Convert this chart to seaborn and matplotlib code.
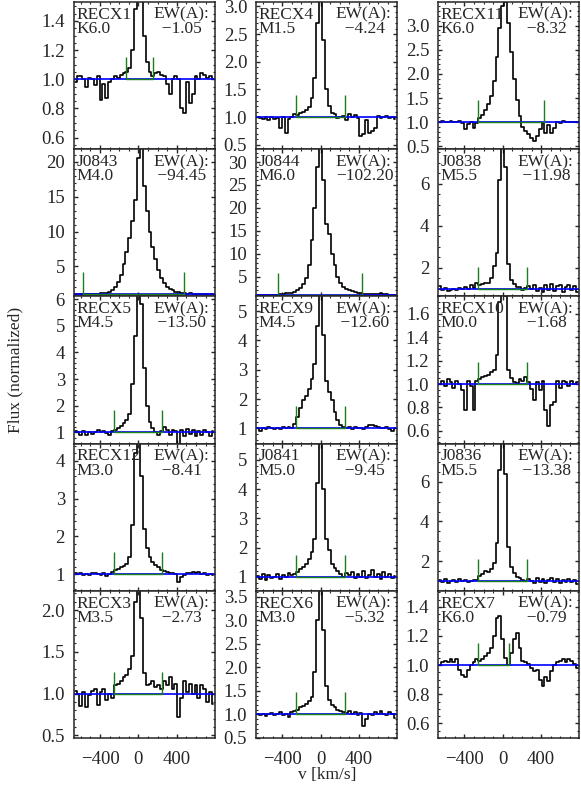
import numpy as np
import matplotlib
matplotlib.use('Agg')
import matplotlib.pyplot as plt
import seaborn as sns
from matplotlib.ticker import MultipleLocator, AutoMinorLocator

# velocity grid of the spectra (bin centres, km/s)
VELOCITY = np.arange(-660, 781, 30)

STARS = ['RECX1', 'RECX4', 'RECX11',
         'J0843', 'J0844', 'J0838',
         'RECX5', 'RECX9', 'RECX10',
         'RECX12', 'J0841', 'J0836',
         'RECX3', 'RECX6', 'RECX7']
SPECTRAL_TYPES = ['K6.0', 'M1.5', 'K6.0',
                  'M4.0', 'M6.0', 'M5.5',
                  'M4.5', 'M4.5', 'M0.0',
                  'M3.0', 'M5.0', 'M5.5',
                  'M3.5', 'M3.0', 'K6.0']
EQUIV_WIDTHS = [-1.05, -4.24, -8.32,
                -94.45, -102.20, -11.98,
                -13.50, -12.60, -1.68,
                -8.41, -9.45, -13.38,
                -2.73, -5.32, -0.79]

# integration limits (km/s)
LIMIT_LOW = [-125, -255, -255,
             -575, -440, -255,
             -255, -255, -255,
             -255, -255, -255,
             -255, -255, -255]
LIMIT_HIGH = [150, 250, 435,
              480, 435, 250,
              250, 250, 250,
              250, 250, 250,
              250, 250, 70]

Y_RANGES = [(0.52, 1.53), (0.42, 3.08), (0.44, 3.49),
            (0.7, 21.8), (0.7, 32.8), (0.64, 7.65),
            (0.58, 6.1), (0.48, 5.5), (0.49, 1.75),
            (0.56, 4.46), (0.52, 5.56), (0.53, 7.9),
            (0.47, 2.23), (0.5, 3.63), (0.5, 1.51)]
Y_STEPS = [0.2, 0.5, 0.5,
           5, 5, 2,
           1, 1, 0.2,
           1, 1, 2,
           0.5, 0.5, 0.2]

FLUX_RECX1 = [0.98, 1.02, 1.02, 1.00, 0.95, 1.01, 1.00,
              0.96, 1.02, 0.86, 0.97, 0.87, 0.98, 1.00,
              1.02, 1.01, 1.03, 1.04, 1.05, 1.08, 1.20,
              1.48, 1.62, 1.60, 1.30, 1.12, 1.05, 1.02,
              1.04, 1.05, 1.03, 1.02, 0.97, 0.90, 1.00,
              1.02, 1.00, 0.80, 0.77, 0.98, 0.84, 0.90,
              1.02, 1.00, 1.04, 1.03, 1.01, 1.02, 1.00]
FLUX_RECX4 = [1.00, 0.98, 0.97, 1.00, 0.95, 1.00, 0.97,
              0.98, 0.80, 1.00, 0.72, 0.96, 1.00, 1.05,
              1.04, 1.08, 1.10, 1.12, 1.18, 1.35, 1.70,
              2.70, 3.40, 2.40, 1.50, 1.20, 1.08, 1.05,
              0.98, 1.00, 1.02, 0.95, 1.05, 1.00, 1.03,
              0.98, 0.65, 0.70, 0.95, 0.72, 0.75, 0.80,
              1.02, 0.98, 1.00, 1.02, 0.98, 1.00, 0.97]
FLUX_RECX11 = [1.00, 1.02, 1.01, 1.00, 1.02, 1.01, 1.00,
               1.02, 0.98, 0.85, 0.97, 1.00, 0.88, 0.98,
               1.08, 1.15, 1.25, 1.38, 1.55, 1.85, 2.35,
               2.95, 3.40, 3.50, 3.05, 2.45, 1.90, 1.45,
               1.12, 0.90, 0.82, 0.75, 0.68, 0.62, 0.72,
               0.85, 0.98, 0.78, 0.95, 0.78, 0.88, 1.00,
               0.98, 1.02, 1.00, 1.01, 1.00, 1.00, 1.00]
FLUX_J0843 = [1.00, 1.00, 1.02, 1.00, 1.03, 1.05, 1.05,
              1.08, 1.10, 1.12, 1.18, 1.25, 1.40, 1.65,
              2.10, 2.70, 3.80, 5.30, 7.00, 9.00, 11.5,
              14.5, 20.5, 23.0, 16.5, 13.0, 10.0, 7.8,
              6.0, 4.5, 3.4, 2.6, 2.1, 1.8, 1.55,
              1.40, 1.28, 1.20, 1.12, 1.10, 1.12, 1.08,
              1.05, 1.05, 1.03, 1.02, 1.02, 1.00, 1.00]
FLUX_J0844 = [1.00, 1.05, 1.00, 1.10, 0.95, 1.05, 1.00,
              1.10, 1.20, 1.25, 1.35, 1.40, 1.55, 1.75,
              2.10, 2.60, 3.40, 4.80, 7.50, 13.0, 20.0,
              29.0, 33.5, 26.0, 16.5, 14.3, 10.0, 7.5,
              5.0, 3.6, 2.8, 2.3, 2.0, 1.8, 1.6,
              1.5, 1.4, 1.25, 1.15, 1.20, 1.30, 1.25,
              1.20, 1.40, 1.30, 1.20, 1.10, 1.05, 1.00]
FLUX_J0838 = [1.15, 0.95, 1.05, 0.90, 0.95, 1.00, 0.95,
              1.05, 1.00, 1.10, 1.00, 1.20, 1.05, 1.30,
              1.20, 1.25, 1.30, 1.30, 1.50, 2.10, 2.70,
              6.20, 7.80, 6.80, 2.20, 1.40, 1.25, 1.10,
              1.10, 0.95, 1.05, 1.15, 1.00, 1.20, 0.90,
              1.05, 0.85, 1.20, 0.95, 1.25, 0.90, 1.15,
              1.20, 0.85, 1.10, 1.20, 0.95, 1.15, 0.85]
FLUX_RECX5 = [1.05, 1.00, 0.92, 1.05, 0.90, 1.00, 0.95,
              1.02, 1.10, 1.00, 1.05, 0.98, 0.92, 1.05,
              1.10, 1.18, 1.25, 1.35, 1.45, 1.70, 2.80,
              4.60, 6.40, 5.80, 3.40, 2.00, 1.40, 1.15,
              1.00, 0.92, 1.05, 1.20, 1.08, 0.92, 1.10,
              1.05, 0.58, 1.10, 0.88, 1.12, 0.95, 1.08,
              0.85, 1.05, 0.92, 1.10, 1.00, 0.85, 1.05]
FLUX_RECX9 = [1.00, 0.92, 1.02, 0.97, 1.05, 1.00, 0.98,
              1.02, 0.97, 1.03, 1.00, 1.05, 1.02, 1.15,
              1.40, 1.70, 1.95, 2.10, 2.35, 2.70, 3.20,
              4.50, 5.70, 4.20, 2.60, 2.25, 1.95, 1.55,
              1.28, 1.12, 1.05, 1.00, 1.03, 0.98, 1.05,
              1.00, 1.02, 0.98, 1.05, 1.12, 1.10, 1.08,
              1.05, 1.02, 1.00, 1.05, 0.98, 0.90, 1.00]
FLUX_RECX10 = [1.00, 1.03, 0.98, 1.04, 1.02, 0.97, 1.03,
               1.00, 0.95, 0.78, 1.03, 0.98, 0.78, 1.03,
               1.04, 1.06, 1.07, 1.08, 1.10, 1.12, 1.25,
               1.70, 1.80, 1.75, 1.12, 1.05, 1.02, 1.01,
               1.04, 1.03, 1.06, 1.02, 0.96, 0.86, 1.02,
               0.95, 1.03, 0.78, 0.64, 0.82, 0.85, 1.03,
               0.97, 1.03, 1.02, 0.98, 1.03, 1.00, 1.02]
FLUX_RECX12 = [1.02, 1.00, 1.03, 0.98, 1.00, 0.97, 1.02,
               1.04, 1.00, 0.98, 1.02, 0.96, 1.00, 1.05,
               1.10, 1.15, 1.20, 1.22, 1.28, 1.45, 2.30,
               4.20, 4.70, 3.60, 2.20, 1.70, 1.45, 1.32,
               1.25, 1.20, 1.12, 1.08, 1.05, 1.02, 1.04,
               1.00, 0.80, 0.92, 0.97, 1.03, 1.02, 1.05,
               1.03, 1.06, 1.00, 1.02, 0.98, 1.00, 0.97]
FLUX_J0841 = [1.02, 0.92, 1.10, 0.90, 1.05, 0.95, 1.00,
              1.10, 0.92, 1.05, 1.00, 1.12, 1.05, 1.10,
              1.18, 1.25, 1.35, 1.45, 1.60, 1.85, 2.30,
              4.20, 5.80, 4.00, 2.30, 1.90, 1.45, 1.30,
              1.20, 1.10, 1.00, 1.12, 1.05, 1.15, 0.95,
              1.10, 1.00, 1.20, 0.95, 1.05, 1.22, 0.98,
              1.10, 0.92, 1.15, 1.00, 1.08, 0.95, 1.02]
FLUX_J0836 = [1.05, 0.95, 1.10, 0.92, 1.00, 1.05, 0.95,
              1.10, 1.00, 1.05, 0.98, 1.00, 1.08, 1.05,
              1.25, 1.35, 1.50, 1.45, 1.60, 1.90, 2.90,
              6.60, 8.20, 6.40, 2.70, 1.70, 1.40, 1.20,
              1.15, 1.05, 1.00, 1.10, 1.00, 0.92, 1.15,
              0.95, 1.10, 0.90, 1.05, 1.15, 0.95, 1.10,
              0.92, 1.08, 0.95, 1.10, 0.98, 1.05, 0.85]
FLUX_RECX3 = [1.03, 1.00, 0.85, 1.02, 0.84, 0.98, 1.03,
              1.05, 0.86, 1.02, 1.05, 0.92, 1.00, 0.95,
              1.10, 1.12, 1.15, 1.20, 1.22, 1.30, 1.45,
              2.10, 2.40, 1.90, 1.25, 1.10, 1.12, 1.15,
              1.08, 1.10, 1.05, 1.15, 1.10, 1.20, 1.05,
              1.12, 0.72, 0.95, 1.15, 1.02, 1.12, 1.00,
              1.10, 0.95, 1.10, 1.05, 0.90, 1.02, 0.88]
FLUX_RECX6 = [1.00, 0.98, 1.02, 0.97, 1.00, 1.03, 0.98,
              1.02, 1.05, 0.98, 1.02, 0.95, 1.05, 1.08,
              1.10, 1.15, 1.18, 1.22, 1.28, 1.38, 1.90,
              3.00, 3.80, 2.80, 1.60, 1.30, 1.20, 1.15,
              1.10, 1.08, 1.05, 1.03, 1.08, 1.00, 1.05,
              0.98, 1.03, 0.75, 0.90, 1.00, 0.98, 1.05,
              1.00, 1.08, 1.02, 0.98, 1.05, 1.00, 0.93]
FLUX_RECX7 = [1.00, 1.02, 1.03, 1.02, 1.04, 1.02, 1.04,
              0.97, 0.93, 0.92, 0.97, 1.00, 1.02, 1.04,
              1.03, 1.04, 1.06, 1.08, 1.12, 1.20, 1.32,
              1.34, 1.18, 1.05, 1.00, 1.08, 1.18, 1.22,
              1.12, 1.03, 1.02, 1.01, 0.98, 0.96, 0.97,
              0.90, 0.86, 0.92, 0.89, 0.96, 1.00, 1.02,
              1.03, 1.04, 1.02, 1.04, 1.03, 1.01, 0.98]

PROFILES = [FLUX_RECX1, FLUX_RECX4, FLUX_RECX11,
            FLUX_J0843, FLUX_J0844, FLUX_J0838,
            FLUX_RECX5, FLUX_RECX9, FLUX_RECX10,
            FLUX_RECX12, FLUX_J0841, FLUX_J0836,
            FLUX_RECX3, FLUX_RECX6, FLUX_RECX7]


def draw_panel(ax, flux, name, sptype, ew, lo, hi, yrange, ystep):
    sns.lineplot(x=VELOCITY, y=flux, drawstyle='steps-mid', color='black',
                 linewidth=1.2, ax=ax)
    ax.axhline(1.0, color='blue', linewidth=1.2)

    # integration window
    mark = 0.15 * (yrange[1] - yrange[0])
    ax.plot([lo, hi], [1.0, 1.0], color='#1a7f1a', linewidth=1.0)
    ax.vlines([lo, hi], 1.0, 1.0 + mark, color='#1a7f1a', linewidth=1.0)

    ax.set_xlim(-672, 795)
    ax.set_ylim(*yrange)
    ax.xaxis.set_major_locator(MultipleLocator(400))
    ax.xaxis.set_minor_locator(MultipleLocator(100))
    ax.yaxis.set_major_locator(MultipleLocator(ystep))
    ax.yaxis.set_minor_locator(AutoMinorLocator())
    ax.set_xlabel('')
    ax.set_ylabel('')

    # two-line labels, anchored on the baseline of the second line
    ax.text(0.018, 0.789, f'{name}\n{sptype}', transform=ax.transAxes,
            ha='left', va='baseline', linespacing=0.85, fontsize=12.5)
    ew_str = f'{ew:7.2f}'.replace('-', '\u2212')
    ax.text(0.565, 0.789, f'EW(A):\n{ew_str}', transform=ax.transAxes,
            ha='left', va='baseline', linespacing=0.85, fontsize=12.5)


def main():
    sns.set_style('ticks')
    plt.rcParams['font.family'] = ['Liberation Serif', 'DejaVu Serif']
    plt.rcParams['font.size'] = 12.5
    plt.rcParams['axes.linewidth'] = 1.1
    plt.rcParams['xtick.direction'] = 'in'
    plt.rcParams['ytick.direction'] = 'in'
    plt.rcParams['xtick.top'] = True
    plt.rcParams['ytick.right'] = True

    fig, axes = plt.subplots(5, 3, figsize=(5.81, 7.9), dpi=100)
    fig.subplots_adjust(left=74 / 581, right=579 / 581, top=1 - 2 / 790,
                        bottom=1 - 738 / 790, wspace=0.295, hspace=0)

    for i, ax in enumerate(axes.flat):
        draw_panel(ax, PROFILES[i], STARS[i], SPECTRAL_TYPES[i], EQUIV_WIDTHS[i],
                   LIMIT_LOW[i], LIMIT_HIGH[i], Y_RANGES[i], Y_STEPS[i])
        ax.tick_params(which='major', length=3.2, width=1.0, labelsize=13.5)
        ax.tick_params(which='minor', length=1.6, width=0.8)
        ax.tick_params(axis='y', pad=6.5)
        ax.tick_params(axis='x', pad=9.5)
        if i < 12:
            ax.tick_params(axis='x', labelbottom=False)

    fig.text(15 / 581, 1 - 370 / 790, 'Flux (normalized)', rotation=90,
             ha='center', va='center', fontsize=12.5)
    fig.text(327 / 581, 1 - 775 / 790, 'v [km/s]', ha='center', va='center',
             fontsize=12.5)

    fig.savefig('out.png', dpi=100)
    plt.close(fig)


if __name__ == '__main__':
    main()
